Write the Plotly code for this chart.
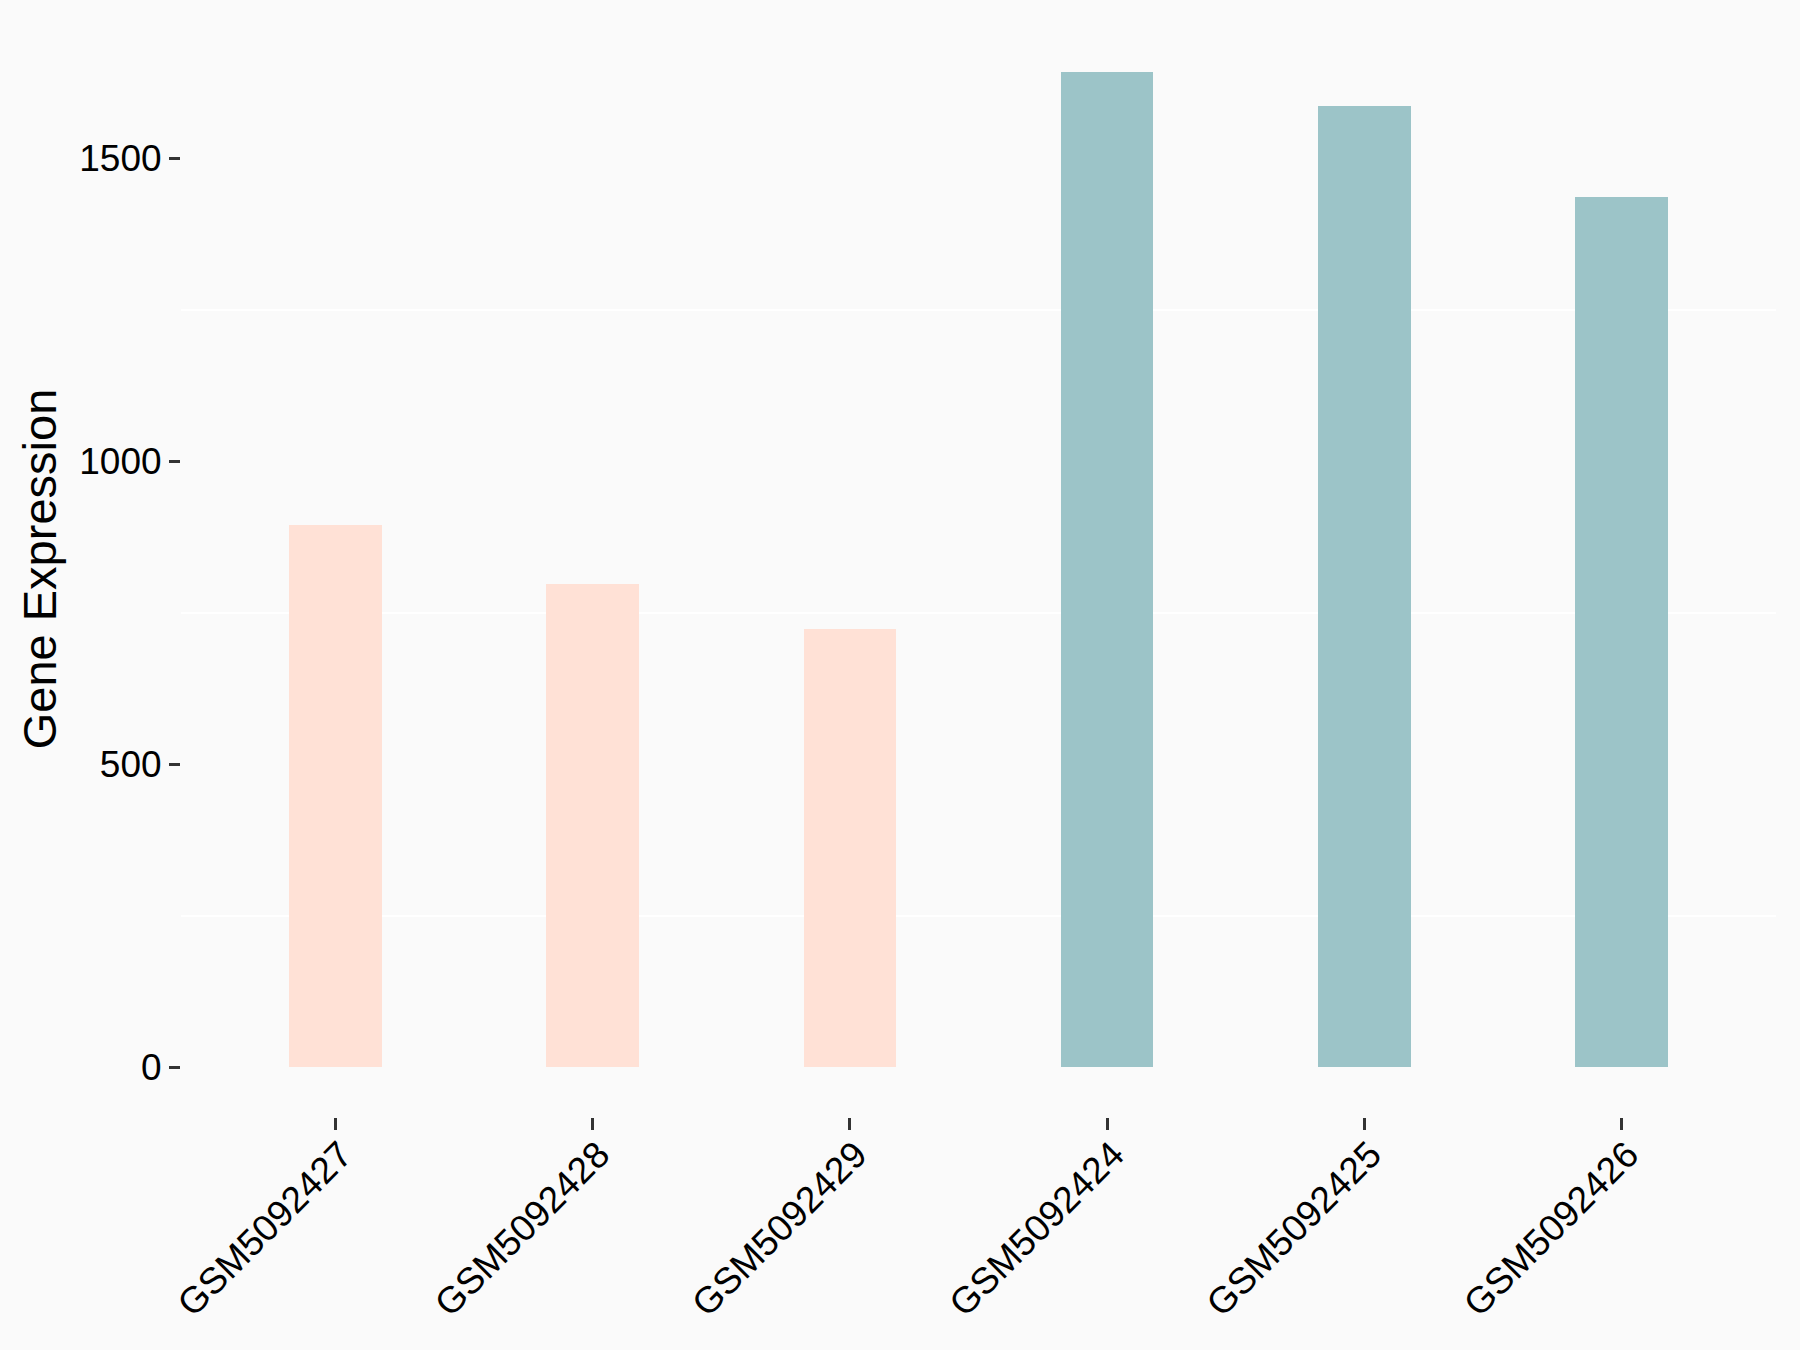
import plotly.graph_objects as go

samples = ["GSM5092427", "GSM5092428", "GSM5092429", "GSM5092424", "GSM5092425", "GSM5092426"]
expression = [895, 798, 724, 1643, 1586, 1436]
groups = ["A", "A", "A", "B", "B", "B"]
group_colors = {"A": "#FFE1D6", "B": "#9CC4C8"}

fig = go.Figure()
fig.add_trace(go.Bar(
    x=samples, y=expression,
    marker=dict(color=[group_colors[g] for g in groups], line=dict(width=0)),
    width=0.36, showlegend=False,
))

fig.update_layout(
    width=1800, height=1350,
    paper_bgcolor="#FAFAFA", plot_bgcolor="#FAFAFA",
    margin=dict(l=181, r=24, t=21, b=233, pad=0),
    font=dict(family="Liberation Sans, Arial, sans-serif", color="black"),
    bargap=0,
)
fig.update_xaxes(
    type="category", range=[-0.6, 5.6],
    tickangle=-45, tickfont=dict(size=37, color="black"),
    ticks="outside", ticklen=12, tickwidth=3, tickcolor="#333333",
    ticklabelstandoff=-12, ticklabelshift=6,
    showgrid=False, showline=False, zeroline=False,
)
fig.update_yaxes(
    range=[-82, 1727], tickvals=[0, 500, 1000, 1500],
    tickfont=dict(size=37, color="black"),
    ticks="outside", ticklen=11, tickwidth=3, tickcolor="#333333",
    showgrid=False, showline=False, zeroline=False,
    minor=dict(tick0=250, dtick=500, showgrid=True, gridcolor="white", gridwidth=2, ticks=""),
    title=dict(text="Gene Expression", font=dict(size=47, color="black"), standoff=7),
)

fig.write_html(
    "out.html",
    config={"displayModeBar": False},
    post_script="document.body.style.margin='0';document.body.style.background='#FAFAFA';",
)
